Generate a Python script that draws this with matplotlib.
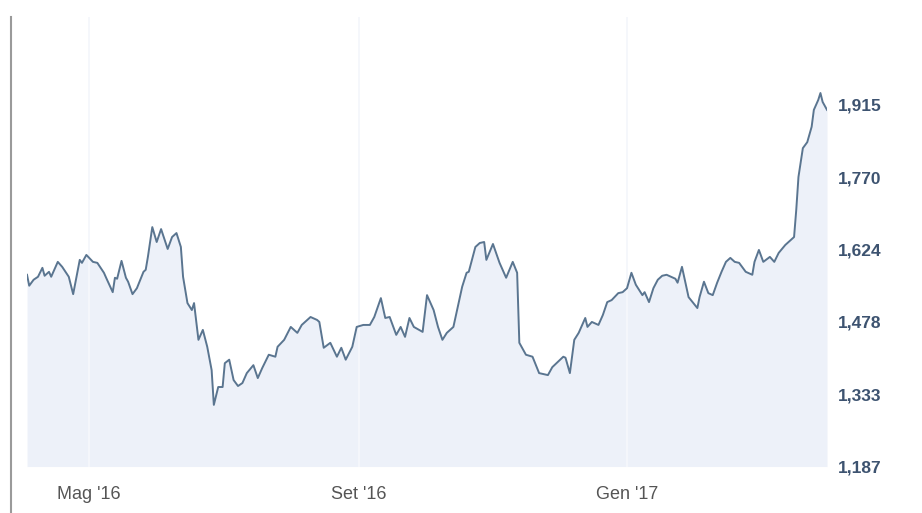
import matplotlib
matplotlib.use("Agg")
import matplotlib.pyplot as plt
from matplotlib.lines import Line2D
import numpy as np
import pandas as pd

# Price series (days counted from the first point)
start_date = "2016-04-03"
days = [0, 1, 3, 5, 7, 8, 10, 11, 14, 16,
        19, 21, 24, 25, 27, 30, 32, 35, 36, 39,
        40, 41, 43, 45, 46, 48, 50, 53, 54, 55,
        57, 59, 61, 64, 66, 68, 70, 71, 73, 75,
        76, 78, 80, 82, 84, 85, 87, 89, 90, 92,
        94, 96, 98, 100, 103, 105, 107, 110, 113, 114,
        117, 120, 123, 125, 129, 132, 133, 135, 138, 141,
        143, 145, 148, 150, 153, 156, 158, 161, 163, 165,
        168, 170, 172, 174, 176, 180, 182, 185, 187, 189,
        191, 194, 196, 198, 200, 201, 204, 206, 208, 209,
        212, 215, 218, 221, 223, 224, 227, 230, 233, 237,
        239, 244, 245, 247, 249, 251, 254, 255, 257, 260,
        262, 264, 266, 269, 271, 273, 275, 277, 280, 281,
        283, 285, 287, 289, 291, 293, 295, 296, 298, 299,
        301, 305, 306, 308, 310, 312, 314, 316, 318, 320,
        322, 324, 327, 330, 331, 333, 335, 338, 340, 342,
        345, 349, 350, 351, 353, 355, 357, 358, 360, 361,
        362, 364]
prices = [1573, 1551, 1563, 1569, 1587, 1571, 1579, 1569, 1599, 1589,
          1569, 1534, 1603, 1597, 1613, 1599, 1597, 1577, 1567, 1538,
          1567, 1565, 1601, 1567, 1559, 1534, 1546, 1579, 1583, 1609,
          1669, 1639, 1665, 1625, 1649, 1657, 1629, 1569, 1516, 1502,
          1516, 1442, 1462, 1428, 1381, 1311, 1347, 1347, 1395, 1402,
          1361, 1349, 1355, 1375, 1391, 1365, 1385, 1412, 1408, 1428,
          1442, 1468, 1456, 1472, 1488, 1482, 1478, 1426, 1436, 1408,
          1426, 1402, 1428, 1468, 1472, 1472, 1488, 1526, 1486, 1488,
          1452, 1468, 1448, 1486, 1468, 1458, 1532, 1502, 1468, 1442,
          1456, 1468, 1508, 1549, 1577, 1579, 1629, 1637, 1639, 1603,
          1635, 1597, 1567, 1599, 1577, 1436, 1412, 1408, 1375, 1371,
          1387, 1408, 1406, 1375, 1442, 1456, 1486, 1468, 1478, 1472,
          1492, 1518, 1522, 1536, 1538, 1546, 1577, 1553, 1532, 1538,
          1518, 1546, 1563, 1571, 1573, 1569, 1565, 1557, 1589, 1569,
          1528, 1506, 1528, 1559, 1536, 1532, 1557, 1579, 1599, 1607,
          1599, 1597, 1579, 1573, 1599, 1623, 1599, 1609, 1599, 1617,
          1633, 1649, 1704, 1770, 1828, 1840, 1871, 1905, 1925, 1939,
          1921, 1905]

y_ticks = [1186.9, 1332.6, 1478.3, 1624.0, 1769.7, 1915.4]
y_labels = ["1,187", "1,333", "1,478", "1,624", "1,770", "1,915"]
x_ticks = ["2016-05-01", "2016-09-01", "2017-01-01"]
x_labels = ["Mag '16", "Set '16", "Gen '17"]

dates = pd.Timestamp(start_date) + pd.to_timedelta(days, unit="D")

fig = plt.figure(figsize=(9.22, 5.13), dpi=100)
ax = fig.add_axes([0.0293, 0.0906, 0.8677, 0.8762])

y_low, y_high = 1186.9, 2092.0
tick_dates = pd.to_datetime(x_ticks)

# very faint month gridlines
for d in tick_dates:
    ax.axvline(d, color="#f3f4f8", lw=1.2, zorder=0)

ax.fill_between(dates, prices, y_low, color="#edf1f9", lw=0, zorder=1)
for d in tick_dates:
    ax.axvline(d, color="#f6f8fc", lw=1.2, zorder=1.5)
ax.plot(dates, prices, color="#5a7590", lw=1.4, zorder=2)

ax.set_xlim(dates[0], dates[-1])
ax.set_ylim(y_low, y_high)

ax.yaxis.tick_right()
ax.set_yticks(y_ticks)
ax.set_yticklabels(y_labels, fontsize=12.5, fontweight="bold",
                   color="#3d5370", family="Liberation Sans")
ax.tick_params(axis="y", length=0, pad=8)

ax.set_xticks(tick_dates)
ax.set_xticklabels(x_labels, fontsize=13, color="#555555",
                   family="Liberation Sans")
ax.tick_params(axis="x", length=0, pad=14)

for s in ax.spines.values():
    s.set_visible(False)

# container border on the left
fig.add_artist(Line2D([11 / 922, 11 / 922], [0, 496 / 513],
                      color="#9a9a9a", lw=1.5))

fig.savefig("out.png", dpi=100)
